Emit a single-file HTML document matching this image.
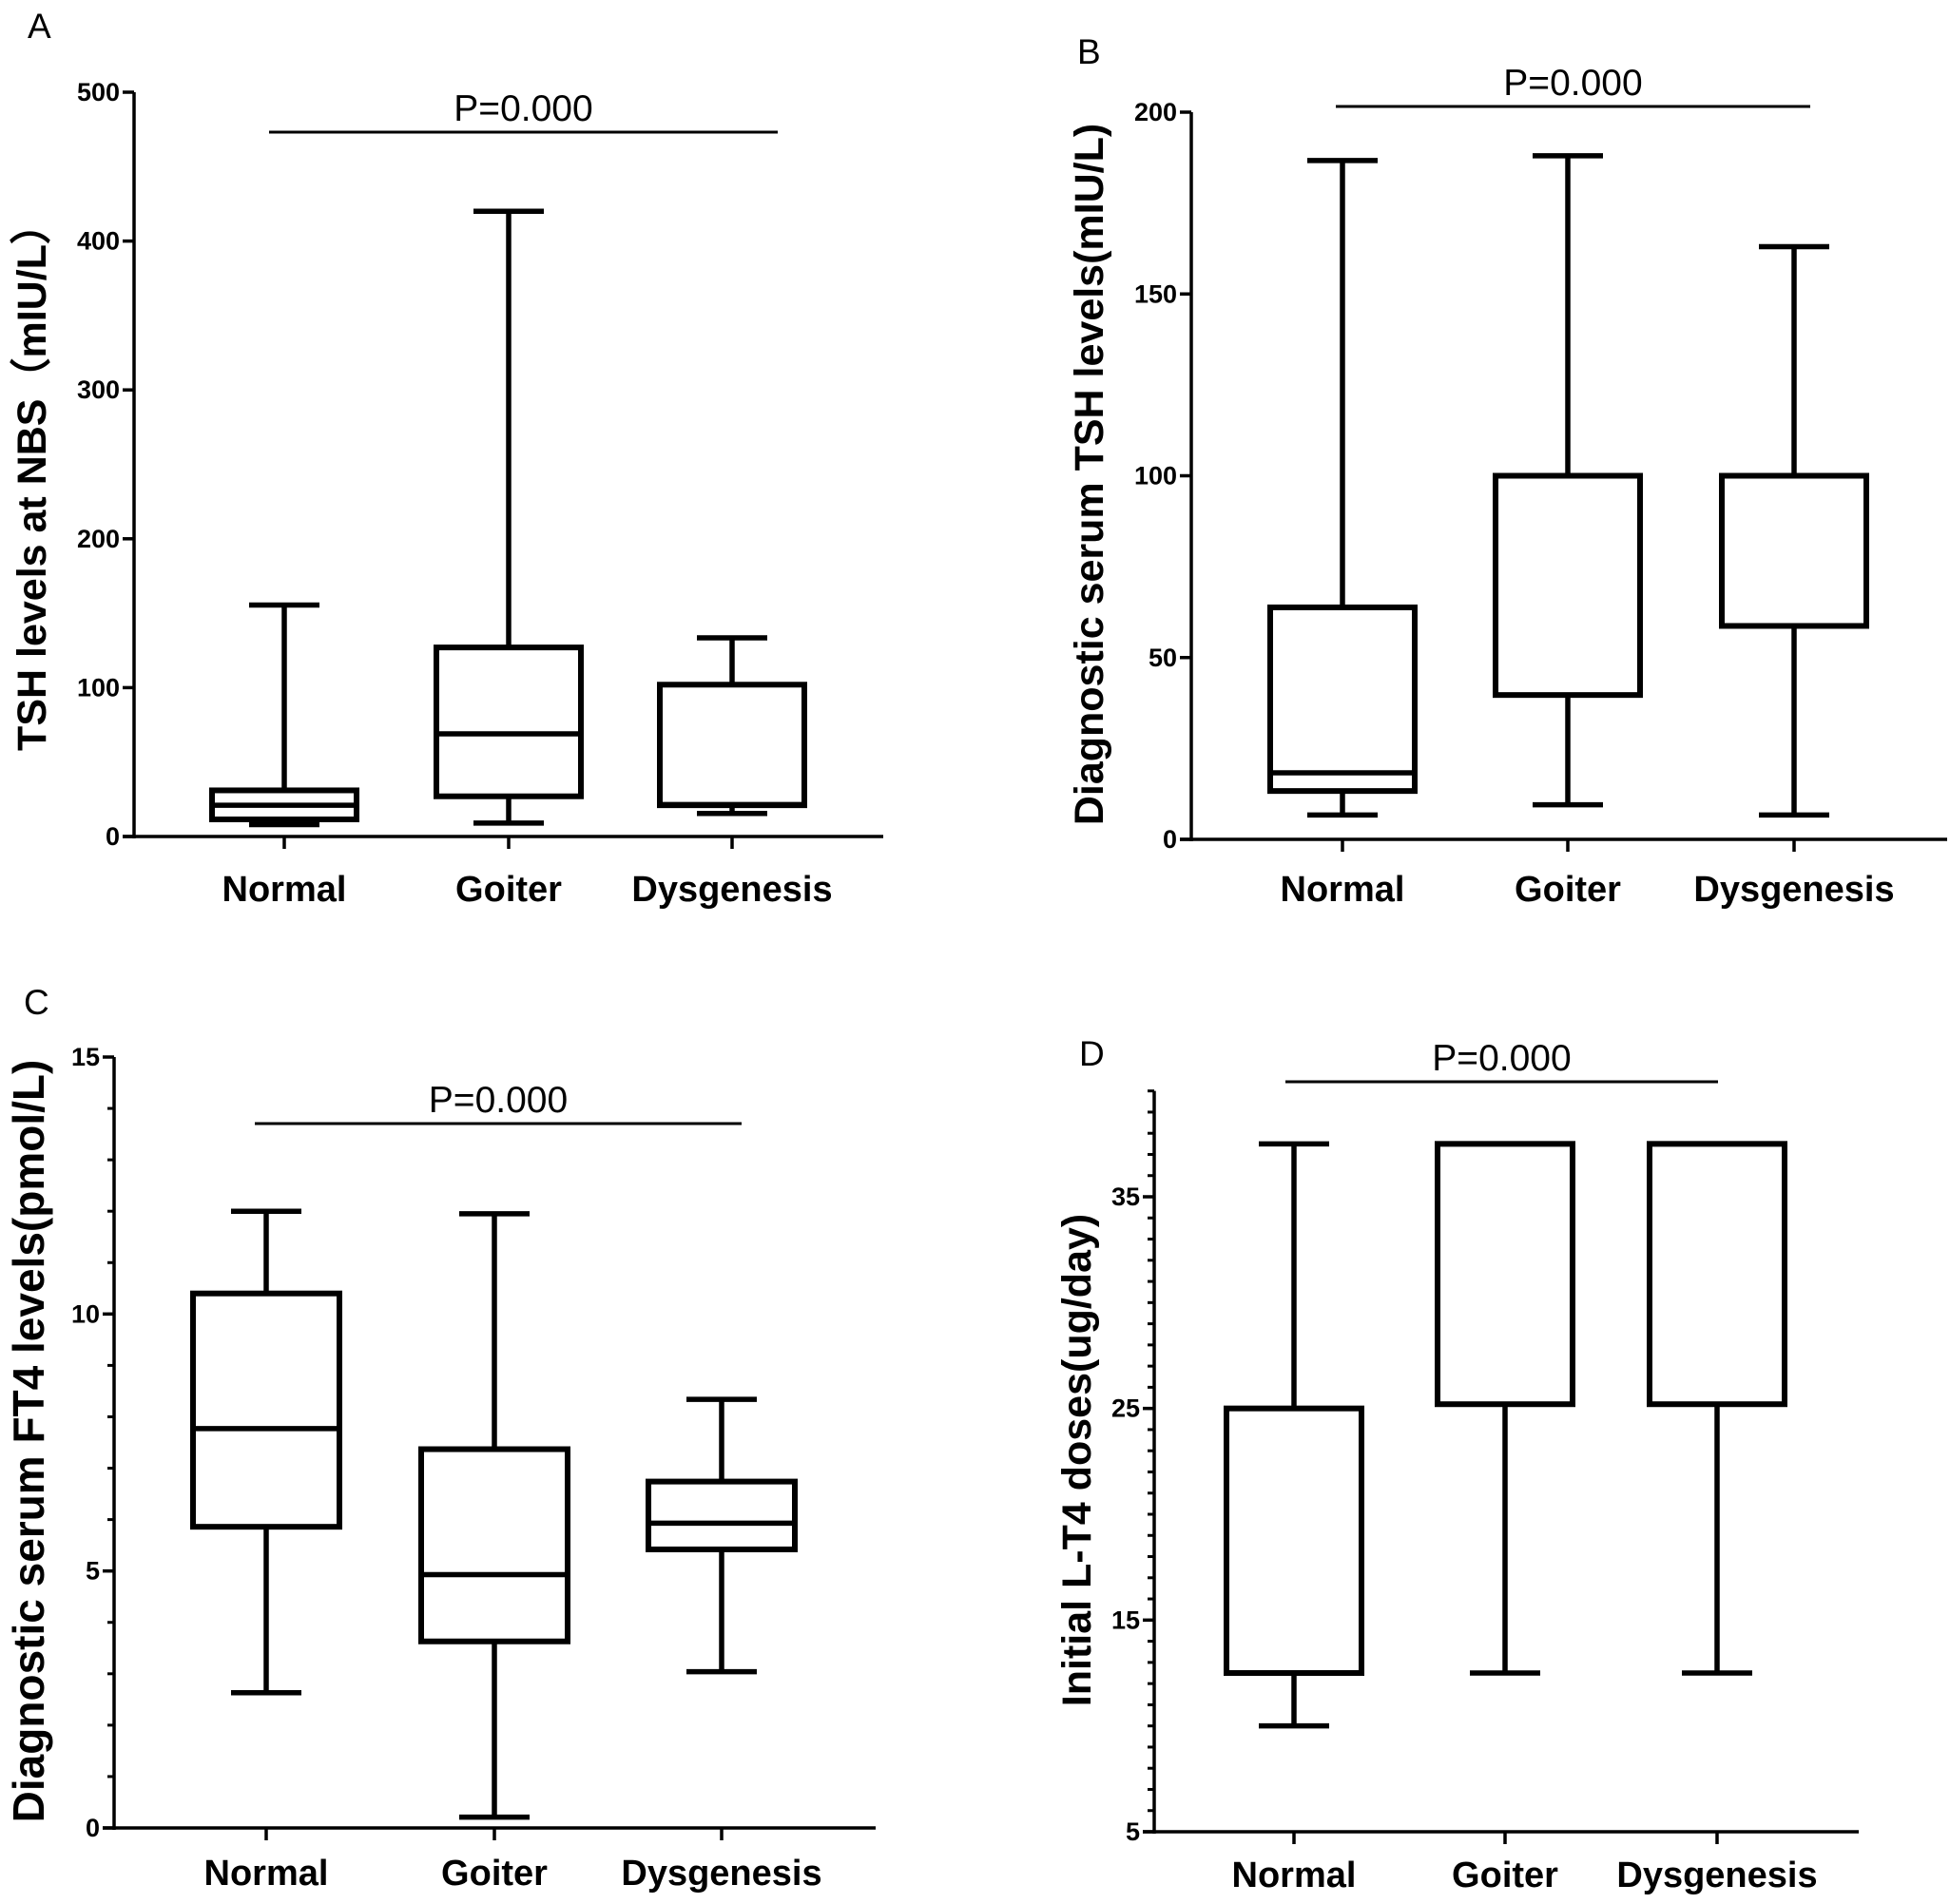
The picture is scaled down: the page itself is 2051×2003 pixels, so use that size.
<!DOCTYPE html>
<html><head><meta charset="utf-8"><style>
html,body{margin:0;padding:0;background:#fff}
svg{display:block}
text{font-family:"Liberation Sans",Arial,sans-serif;fill:#000}
</style></head><body>
<svg id="fig" width="2051" height="2003" viewBox="0 0 2051 2003" xmlns="http://www.w3.org/2000/svg"></svg>
<script>
const categories = ["Normal","Goiter","Dysgenesis"];
// [min, q1, median, q3, max]
const seriesA = [[8,11.5,21,31,155.5],[9,27,69,127,420],[15.5,21,21.5,102,133.5]];
const seriesB = [[6.7,13.3,18.3,63.8,186.7],[9.5,39.7,100,100,188],[6.7,58.7,100,100,163]];
const seriesC = [[2.63,5.86,7.77,10.4,12.0],[0.21,3.63,4.93,7.37,11.95],[3.04,5.42,5.93,6.74,8.34]];
const seriesD = [[10,12.5,12.5,25,37.5],[12.5,25.2,37.5,37.5,37.5],[12.5,25.2,37.5,37.5,37.5]];
const ticksA = [0,100,200,300,400,500];
const ticksB = [0,50,100,150,200];
const ticksC = [0,5,10,15];
const ticksD = [5,15,25,35];
const pText = "P=0.000";

const NS="http://www.w3.org/2000/svg";
const svg=document.getElementById('fig');
function mk(tag,attrs,parent,txt){const e=document.createElementNS(NS,tag);for(const k in attrs)e.setAttribute(k,attrs[k]);if(txt!==undefined)e.textContent=txt;(parent||svg).appendChild(e);return e;}

function panel(cfg){
  const g=mk('g',{});
  
  
  const y=v=>cfg.y0+(v-cfg.vmin)*(cfg.yTop-cfg.y0)/(cfg.vmax-cfg.vmin);
  const xs=cfg.cx;
  const L=mk('text',{x:cfg.letterX,y:cfg.letterY,'font-size':37},g,cfg.letter);
  
  
  const ya=mk('line',{x1:cfg.ax,y1:y(cfg.vmin)+2,x2:cfg.ax,y2:y(cfg.axTop),stroke:'#000','stroke-width':3.5},g);
  
  
  const xa=mk('line',{x1:cfg.ax-12,y1:y(cfg.vmin),x2:cfg.axRight,y2:y(cfg.vmin),stroke:'#000','stroke-width':3.5},g);
  
  
  if(cfg.minor){
    for(let v=cfg.vmin;v<=cfg.axTop+1e-6;v+=cfg.minor){
      mk('line',{x1:cfg.ax-7,y1:y(v),x2:cfg.ax,y2:y(v),stroke:'#000','stroke-width':3},g);
    }
  }
  cfg.ticks.forEach(t=>{
    mk('line',{x1:cfg.ax-12,y1:y(t),x2:cfg.ax,y2:y(t),stroke:'#000','stroke-width':3.5},g);
    const tl=mk('text',{x:cfg.ax-15,y:y(t)+9,'font-size':27,'font-weight':'bold','text-anchor':'end'},g,String(t));
    
    
  });
  const yt=mk('text',{x:0,y:0,'font-size':cfg.titleSize,'font-weight':'bold','text-anchor':'middle',transform:`translate(${cfg.titleX},${cfg.titleY}) rotate(-90)`},g,cfg.title);
  
  
  categories.forEach((c,i)=>{
    mk('line',{x1:xs[i],y1:y(cfg.vmin),x2:xs[i],y2:y(cfg.vmin)+13,stroke:'#000','stroke-width':3.5},g);
    const cl=mk('text',{x:xs[i],y:cfg.labY,'font-size':38,'font-weight':'bold','text-anchor':'middle'},g,c);
    
    
    const d=cfg.data[i];
    const bg=mk('g',{stroke:'#000',fill:'none'},g);
    
    
    mk('line',{x1:xs[i],y1:y(d[0]),x2:xs[i],y2:y(d[1]),'stroke-width':5.5},bg);
    mk('line',{x1:xs[i],y1:y(d[3]),x2:xs[i],y2:y(d[4]),'stroke-width':5.5},bg);
    mk('line',{x1:xs[i]-37,y1:y(d[0]),x2:xs[i]+37,y2:y(d[0]),'stroke-width':5.5},bg);
    mk('line',{x1:xs[i]-37,y1:y(d[4]),x2:xs[i]+37,y2:y(d[4]),'stroke-width':5.5},bg);
    mk('rect',{x:xs[i]-cfg.hw,y:y(d[3]),width:2*cfg.hw,height:Math.max(0.5,y(d[1])-y(d[3])),'stroke-width':6,fill:'#fff'},bg);
    mk('line',{x1:xs[i]-cfg.hw,y1:y(d[2]),x2:xs[i]+cfg.hw,y2:y(d[2]),'stroke-width':5.5},bg);
  });
  const pl=mk('line',{x1:cfg.pX1,y1:cfg.pY,x2:cfg.pX2,y2:cfg.pY,stroke:'#000','stroke-width':3},g);
  
  
  const pt=mk('text',{x:(cfg.pX1+cfg.pX2)/2,y:cfg.pY-12,'font-size':39,'text-anchor':'middle'},g,pText);
  
  
}

panel({letter:'A',letterX:29,letterY:40,ax:141,axRight:929,vmin:0,vmax:500,axTop:500,y0:880,yTop:97,ticks:ticksA,
  title:'TSH levels at NBS（mIU/L）',titleSize:43,titleX:48,titleY:502,cx:[299,535,770],hw:76,labY:948,data:seriesA,
  pX1:283,pX2:818,pY:139});
panel({letter:'B',letterX:1133,letterY:67,ax:1253,axRight:2048,vmin:0,vmax:200,axTop:200,y0:883,yTop:118,ticks:ticksB,
  title:'Diagnostic serum TSH levels(mIU/L)',titleSize:43,titleX:1160,titleY:499,cx:[1412,1649,1887],hw:76,labY:948,data:seriesB,
  pX1:1405,pX2:1904,pY:112});
panel({letter:'C',letterX:25,letterY:1067,ax:120,axRight:921,vmin:0,vmax:15,axTop:15,y0:1923,yTop:1112,ticks:ticksC,minor:1,
  title:'Diagnostic serum FT4 levels(pmol/L)',titleSize:46,titleX:46,titleY:1516,cx:[280,520,759],hw:77,labY:1983,data:seriesC,
  pX1:268,pX2:780,pY:1182});
panel({letter:'D',letterX:1135,letterY:1121,ax:1214,axRight:1955,vmin:5,vmax:35,axTop:40,y0:1927,yTop:1259,ticks:ticksD,minor:1,
  title:'Initial L-T4 doses(ug/day)',titleSize:43,titleX:1147,titleY:1536,cx:[1361,1583,1806],hw:71,labY:1985,data:seriesD,
  pX1:1352,pX2:1807,pY:1138});
</script>
</body></html>
